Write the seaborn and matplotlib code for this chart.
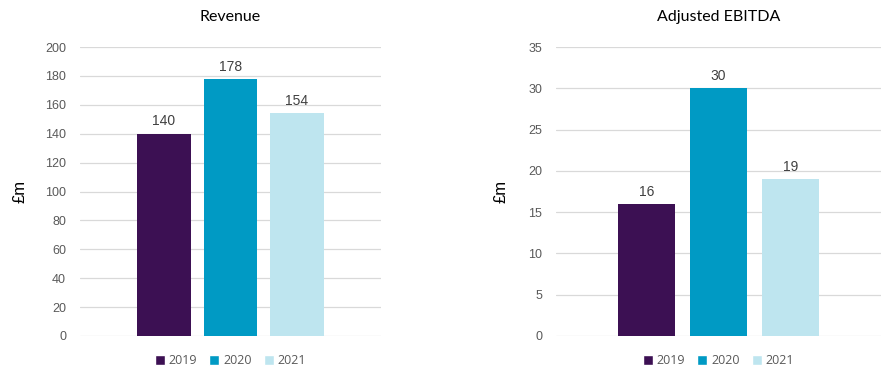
import pandas as pd
import seaborn as sns
import matplotlib.pyplot as plt
from matplotlib.patches import Patch

years = ["2019", "2020", "2021"]
revenue = [140, 178, 154]
ebitda = [16, 30, 19]
colors = ["#3C1053", "#009AC4", "#BEE5EF"]

sns.set_style("white")
plt.rcParams['font.family'] = ['Liberation Sans', 'DejaVu Sans']

fig = plt.figure(figsize=(8.93, 3.75), dpi=100)
ax1 = fig.add_axes([80 / 893, 39 / 375, 301 / 893, 289 / 375])
ax2 = fig.add_axes([556 / 893, 39 / 375, 325 / 893, 289 / 375])


def bar_panel(ax, values, title, ymax, step, half, ypad):
    df = pd.DataFrame({'Year': years, 'Value': values})
    sns.barplot(data=df, x='Year', y='Value', hue='Year', palette=colors,
                dodge=False, width=0.8, legend=False, ax=ax, zorder=3,
                linewidth=0, saturation=1)
    for i, v in enumerate(values):
        ax.text(i, v + ymax * 0.018, str(v), ha='center', va='bottom',
                fontsize=10, color='#404040')
    ax.set_ylim(0, ymax)
    ax.set_xlim(1 - half, 1 + half)
    ax.set_yticks(range(0, ymax + 1, step))
    ax.tick_params(axis='y', labelsize=9, colors='#595959', length=0, pad=10)
    ax.set_xticks([])
    ax.set_xlabel('')
    ax.set_ylabel('£m', fontsize=12, color='black', labelpad=ypad)
    ax.grid(axis='y', color='#D9D9D9', linewidth=0.9, zorder=0)
    for s in ax.spines.values():
        s.set_visible(False)
    ax.set_title(title, fontsize=11.5, color='black', pad=19, family=['Lato', 'DejaVu Sans'])
    handles = [Patch(facecolor=c, label=y) for c, y in zip(colors, years)]
    ax.legend(handles=handles, loc='upper center', bbox_to_anchor=(0.5, -0.025),
              ncol=3, frameon=False, handlelength=0.8, handleheight=0.8,
              handletextpad=0.3, columnspacing=1.0,
              prop={'family': ['Open Sans', 'DejaVu Sans'], 'size': 9},
              labelcolor='#595959')


bar_panel(ax1, revenue, 'Revenue', 200, 20, 2.263, 13)
bar_panel(ax2, ebitda, 'Adjusted EBITDA', 35, 5, 2.257, 14)

fig.savefig('out.png', dpi=100)
